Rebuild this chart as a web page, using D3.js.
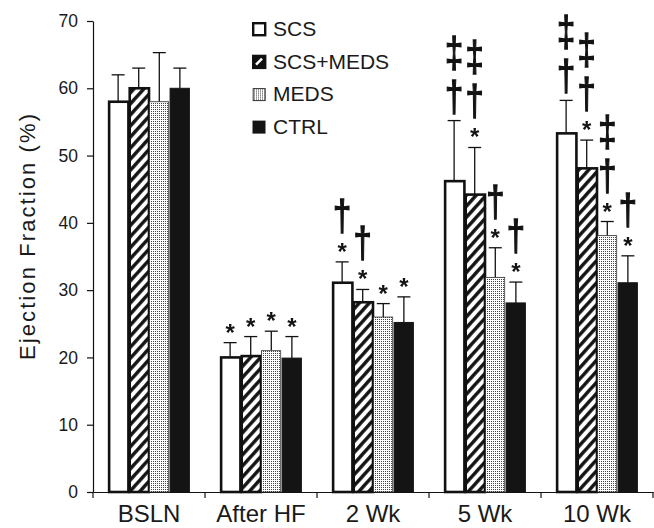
<!DOCTYPE html>
<html>
<head>
<meta charset="utf-8">
<script src="https://cdn.jsdelivr.net/npm/d3@7"></script>
<style>
  html, body { margin: 0; padding: 0; background: #fff; }
  svg { display: block; font-family: "Liberation Sans", Arial, sans-serif; }
  .axis text { fill: #1a1a1a; }
  .axis path, .axis line { stroke: #111; stroke-width: 1.2; }
</style>
</head>
<body>
<div id="chart"></div>
<script>
// categories along x, one bar per group for each series
const categories = ['BSLN', 'After HF', '2 Wk', '5 Wk', '10 Wk'];
const seriesNames = ['SCS', 'SCS+MEDS', 'MEDS', 'CTRL'];

// means and SD (upper whisker)
const scsMean = [58, 20, 31.1, 46.2, 53.3];
const scsErr = [4, 2.2, 3.1, 9, 4.9];
const scsMedsMean = [60, 20.2, 28.2, 44.2, 48.1];
const scsMedsErr = [3, 2.9, 1.9, 7, 4.2];
const medsMean = [58, 21, 26, 31.9, 38.1];
const medsErr = [7.3, 2.9, 2, 4.4, 2.1];
const ctrlMean = [60, 19.9, 25.2, 28.1, 31.1];
const ctrlErr = [3, 3.2, 3.8, 3.1, 4];

// significance marks, stacked from bottom to top
const scsMarks = ['', '*', '*†', '†‡', '†‡'];
const scsMedsMarks = ['', '*', '*†', '*†‡', '*†‡'];
const medsMarks = ['', '*', '*', '*†', '*†‡'];
const ctrlMarks = ['', '*', '*', '*†', '*†'];

const yTicks = [0, 10, 20, 30, 40, 50, 60, 70];

const width = 654, height = 528;
const margin = { top: 21, right: 1, bottom: 36, left: 93 };
const innerW = width - margin.left - margin.right;
const innerH = height - margin.top - margin.bottom;

const means = [scsMean, scsMedsMean, medsMean, ctrlMean];
const errs = [scsErr, scsMedsErr, medsErr, ctrlErr];
const marks = [scsMarks, scsMedsMarks, medsMarks, ctrlMarks];

const svg = d3.select('#chart').append('svg')
  .attr('width', width)
  .attr('height', height);

const defs = svg.append('defs');

// diagonal hatch for SCS+MEDS
const hatch = defs.append('pattern')
  .attr('id', 'hatch')
  .attr('patternUnits', 'userSpaceOnUse')
  .attr('width', 7.4).attr('height', 7.4)
  .attr('patternTransform', 'rotate(42)');
hatch.append('rect').attr('width', 7.4).attr('height', 7.4).attr('fill', '#fff');
hatch.append('line')
  .attr('x1', 1.8).attr('x2', 1.8).attr('y1', 0).attr('y2', 7.4)
  .attr('stroke', '#111').attr('stroke-width', 3.4);

// fine stipple for MEDS
const dots = defs.append('pattern')
  .attr('id', 'dots')
  .attr('patternUnits', 'userSpaceOnUse')
  .attr('width', 2).attr('height', 2);
dots.append('rect').attr('width', 2).attr('height', 2).attr('fill', '#fff');
dots.append('rect').attr('width', 1).attr('height', 1).attr('fill', '#444');

const fills = ['#fff', 'url(#hatch)', 'url(#dots)', '#141414'];
const strokes = ['#111', '#111', '#333', '#141414'];
const strokeW = [2.6, 2.6, 0.8, 1];

const g = svg.append('g')
  .attr('transform', `translate(${margin.left},${margin.top})`);

const x0 = d3.scaleBand()
  .domain(categories)
  .range([0, innerW])
  .paddingInner(0)
  .paddingOuter(0);

const x1 = d3.scaleBand()
  .domain(d3.range(seriesNames.length))
  .range([0, x0.bandwidth()])
  .paddingInner(0)
  .paddingOuter(0.72);

const y = d3.scaleLinear()
  .domain([0, 70])
  .range([innerH, 0]);

// y axis
const yAxis = g.append('g')
  .attr('class', 'axis')
  .call(d3.axisLeft(y).tickValues(yTicks).tickSize(6).tickSizeOuter(0).tickPadding(9));
yAxis.selectAll('text').attr('font-size', 17.5);

// x axis: line, boundary ticks, category labels
const xAxis = g.append('g')
  .attr('class', 'axis')
  .attr('transform', `translate(0,${innerH})`)
  .call(d3.axisBottom(x0).tickSize(0).tickSizeOuter(0).tickPadding(0));
xAxis.selectAll('text')
  .attr('font-size', 24)
  .attr('dy', null)
  .attr('y', 30);

const bounds = categories.map(c => x0(c)).concat([innerW]);
xAxis.selectAll('.bound')
  .data(bounds)
  .enter()
  .append('line')
    .attr('class', 'bound')
    .attr('x1', d => d).attr('x2', d => d)
    .attr('y1', 0).attr('y2', 6);

// bars
const barData = [];
categories.forEach((c, ci) => {
  seriesNames.forEach((s, si) => {
    barData.push({ c, ci, si, v: means[si][ci], e: errs[si][ci], m: marks[si][ci] });
  });
});

const bars = g.append('g').attr('class', 'bars');

// error whiskers (drawn behind the bars)
const capHalf = 6.5;
const whisk = bars.selectAll('.err')
  .data(barData)
  .enter()
  .append('g')
    .attr('class', 'err')
    .attr('stroke', '#111')
    .attr('stroke-width', 1.3);
whisk.append('line')
  .attr('x1', d => x0(d.c) + x1(d.si) + x1.bandwidth() / 2)
  .attr('x2', d => x0(d.c) + x1(d.si) + x1.bandwidth() / 2)
  .attr('y1', d => y(d.v))
  .attr('y2', d => y(d.v + d.e));
whisk.append('line')
  .attr('x1', d => x0(d.c) + x1(d.si) + x1.bandwidth() / 2 - capHalf)
  .attr('x2', d => x0(d.c) + x1(d.si) + x1.bandwidth() / 2 + capHalf)
  .attr('y1', d => y(d.v + d.e))
  .attr('y2', d => y(d.v + d.e));

bars.selectAll('.bar')
  .data(barData)
  .enter()
  .append('rect')
    .attr('class', 'bar')
    .attr('x', d => x0(d.c) + x1(d.si) + strokeW[d.si] / 2)
    .attr('y', d => y(d.v))
    .attr('width', x1.bandwidth() - strokeW[0] / 2)
    .attr('height', d => y(0) - y(d.v))
    .attr('fill', d => fills[d.si])
    .attr('stroke', d => strokes[d.si])
    .attr('stroke-width', d => strokeW[d.si]);

// significance marks, stacked above each whisker using ink bounds
const ctx = document.createElement('canvas').getContext('2d');
const glyphFont = { '*': 24, '†': 42, '‡': 42 };
const glyphWeight = { '*': 'bold', '†': 'normal', '‡': 'normal' };
const glyphScaleX = { '*': 1, '†': 0.78, '‡': 0.78 };
const glyphGap = { '*': 10, '†': 7, '‡': 7 };
function ink(ch) {
  ctx.font = `${glyphWeight[ch]} ${glyphFont[ch]}px "Liberation Sans"`;
  const m = ctx.measureText(ch);
  return { asc: m.actualBoundingBoxAscent, desc: m.actualBoundingBoxDescent };
}
// group opacity keeps the narrowed glyphs in grayscale antialiasing
const markLayer = g.append('g').attr('class', 'marks').attr('opacity', 0.99);
barData.forEach(d => {
  if (!d.m) return;
  const cx = x0(d.c) + x1(d.si) + x1.bandwidth() / 2;
  let cursor = y(d.v + d.e);
  Array.from(d.m).forEach((ch, k) => {
    const b = ink(ch);
    cursor -= k === 0 ? glyphGap[ch] : 10;
    markLayer.append('text')
      .attr('transform', `translate(${cx},${cursor - b.desc}) scale(${glyphScaleX[ch]},1)`)
      .attr('text-anchor', 'middle')
      .attr('font-size', glyphFont[ch])
      .attr('font-weight', glyphWeight[ch])
      .attr('fill', '#111')
      .attr('stroke', ch === '*' ? null : '#111')
      .attr('stroke-width', ch === '*' ? null : 1.3)
      .text(ch);
    cursor -= b.asc + b.desc;
  });
});

// y title
svg.append('text')
  .attr('transform', `translate(35,${margin.top + 216}) rotate(-90)`)
  .attr('text-anchor', 'middle')
  .attr('font-size', 22)
  .attr('fill', '#1a1a1a')
  .attr('textLength', 246)
  .attr('lengthAdjust', 'spacing')
  .text('Ejection Fraction (%)');

// legend
const legend = svg.append('g')
  .attr('transform', 'translate(252,22)');
const legRow = legend.selectAll('.leg')
  .data(seriesNames)
  .enter()
  .append('g')
    .attr('class', 'leg')
    .attr('transform', (d, i) => `translate(0,${i * 32.7})`);
legRow.append('rect')
  .attr('x', (d, i) => i === 3 ? 0.5 : 1.2)
  .attr('y', (d, i) => i === 3 ? 0.5 : 1.2)
  .attr('width', (d, i) => i === 3 ? 13 : 12)
  .attr('height', (d, i) => i === 3 ? 13 : 12)
  .attr('fill', (d, i) => i === 1 ? '#111' : fills[i])
  .attr('stroke', (d, i) => strokes[i])
  .attr('stroke-width', (d, i) => i === 3 ? 0 : (i === 2 ? 1 : 2.4));
legRow.filter((d, i) => i === 1).append('line')
  .attr('x1', 4).attr('y1', 10).attr('x2', 10).attr('y2', 4)
  .attr('stroke', '#fff').attr('stroke-width', 2.5);
legRow.append('text')
  .attr('x', 21)
  .attr('y', 14)
  .attr('font-size', 21)
  .attr('fill', '#1a1a1a')
  .text(d => d);
</script>
</body>
</html>
